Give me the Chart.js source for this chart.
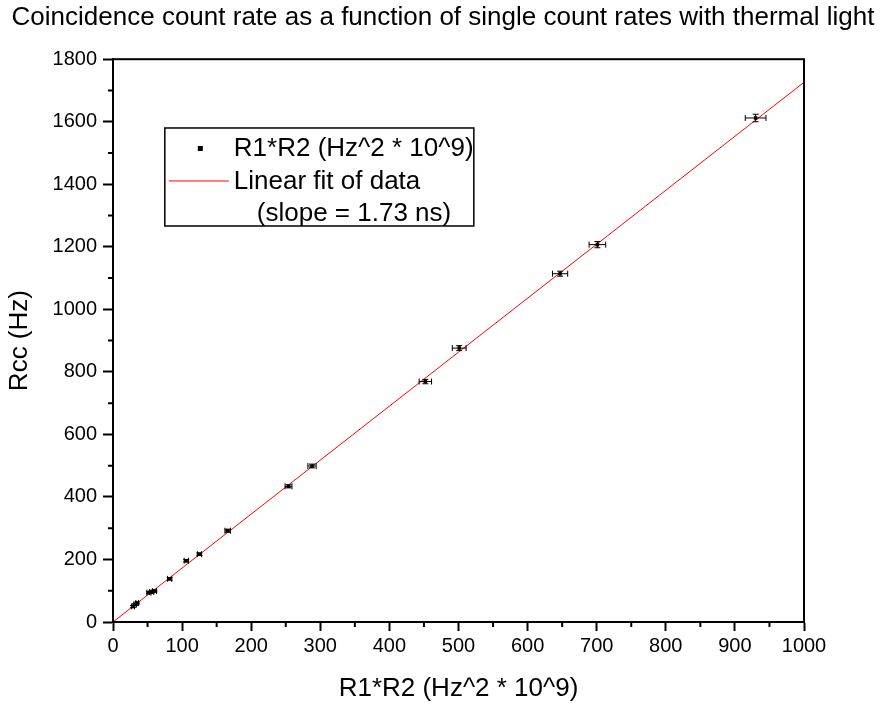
<!DOCTYPE html>
<html>
<head>
<meta charset="utf-8">
<script src="https://cdn.jsdelivr.net/npm/chart.js@4/dist/chart.umd.min.js"></script>
<style>
  html, body { margin: 0; padding: 0; background: #fff; }
  #wrap { width: 886px; height: 704px; }
</style>
</head>
<body>
<div id="wrap"><canvas id="myChart" width="886" height="704"></canvas></div>
<script>
// measured points: R1*R2 (Hz^2 * 10^9) vs Rcc (Hz)
var r1r2 = [29, 32, 35, 52, 56, 60, 82, 106, 125, 166, 254, 288, 452, 501, 647, 701, 930];
var rcc = [50, 56, 61, 94, 96, 99, 138, 196, 217, 292, 434, 499, 769, 876, 1114, 1207, 1612];
var r1r2Err = [2, 2, 2, 3, 3, 3, 3, 3, 3, 4, 5, 6, 9, 10, 11, 12, 15];
var rccErr = [3, 3, 3, 3, 3, 3, 4, 4, 4, 5, 5, 6, 7, 8, 8, 10, 12];

// linear fit end points (slope = 1.73 ns)
var fitX = [0, 1000];
var fitY = [0, 1726];

var FONT = "'Liberation Sans', Arial, sans-serif";

var points = r1r2.map(function (x, i) { return { x: x, y: rcc[i] }; });
var fitLine = fitX.map(function (x, i) { return { x: x, y: fitY[i] }; });

// error bars, minor ticks, frame and legend box
var extras = {
  id: 'extras',
  afterDatasetsDraw: function (chart) {
    var c = chart.ctx, xs = chart.scales.x, ys = chart.scales.y;
    c.save();
    c.strokeStyle = '#000';
    c.lineWidth = 1;
    for (var i = 0; i < r1r2.length; i++) {
      var px = xs.getPixelForValue(r1r2[i]);
      var py = ys.getPixelForValue(rcc[i]);
      var xl = xs.getPixelForValue(r1r2[i] - r1r2Err[i]);
      var xr = xs.getPixelForValue(r1r2[i] + r1r2Err[i]);
      var yt = ys.getPixelForValue(rcc[i] + rccErr[i]);
      var yb = ys.getPixelForValue(rcc[i] - rccErr[i]);
      c.beginPath();
      c.moveTo(xl, py); c.lineTo(xr, py);
      c.moveTo(xl, py - 3); c.lineTo(xl, py + 3);
      c.moveTo(xr, py - 3); c.lineTo(xr, py + 3);
      c.moveTo(px, yt); c.lineTo(px, yb);
      c.moveTo(px - 3, yt); c.lineTo(px + 3, yt);
      c.moveTo(px - 3, yb); c.lineTo(px + 3, yb);
      c.stroke();
    }
    c.restore();
  },
  afterDraw: function (chart) {
    var c = chart.ctx, a = chart.chartArea, xs = chart.scales.x, ys = chart.scales.y;
    c.save();
    c.strokeStyle = '#000';
    c.lineWidth = 2;
    c.strokeRect(a.left, a.top, a.right - a.left, a.bottom - a.top);
    // minor ticks
    c.beginPath();
    for (var v = 50; v < 1000; v += 100) {
      var x = xs.getPixelForValue(v);
      c.moveTo(x, a.bottom); c.lineTo(x, a.bottom + 5);
    }
    for (var w = 100; w < 1800; w += 200) {
      var y = ys.getPixelForValue(w);
      c.moveTo(a.left, y); c.lineTo(a.left - 5, y);
    }
    c.stroke();

    // legend
    var lx = xs.getPixelForValue(75), ly = ys.getPixelForValue(1580);
    var lw = 309, lh = 98;
    c.fillStyle = '#fff';
    c.fillRect(lx, ly, lw, lh);
    c.lineWidth = 1.5;
    c.strokeRect(lx, ly, lw, lh);
    c.fillStyle = '#000';
    c.fillRect(lx + 33, ly + 18, 5, 5);
    c.strokeStyle = '#ff0000';
    c.lineWidth = 1;
    c.beginPath();
    c.moveTo(lx + 4, ly + 53); c.lineTo(lx + 64, ly + 53);
    c.stroke();
    c.font = '26px ' + FONT;
    c.textBaseline = 'middle';
    c.textAlign = 'left';
    c.fillText('R1*R2 (Hz^2 * 10^9)', lx + 69, ly + 21);
    c.fillText('Linear fit of data', lx + 69, ly + 54);
    c.fillText('(slope = 1.73 ns)', lx + 92, ly + 86);
    c.restore();
  }
};

var ctx = document.getElementById('myChart').getContext('2d');
var myChart = new Chart(ctx, {
  type: 'scatter',
  data: {
    datasets: [
      {
        label: 'R1*R2 (Hz^2 * 10^9)',
        data: points,
        pointStyle: 'rect',
        pointRadius: 2.5,
        backgroundColor: '#000',
        borderColor: '#000',
        borderWidth: 0
      },
      {
        label: 'Linear fit of data',
        data: fitLine,
        type: 'line',
        showLine: true,
        borderColor: '#ff0000',
        borderWidth: 1,
        pointRadius: 0,
        fill: false
      }
    ]
  },
  options: {
    responsive: false,
    animation: false,
    layout: { padding: 0 },
    plugins: {
      legend: { display: false },
      tooltip: { enabled: false },
      title: {
        display: true,
        text: 'Coincidence count rate as a function of single count rates with thermal light',
        color: '#000',
        font: { family: FONT, size: 26, weight: 'normal' },
        padding: { top: 2, bottom: 26 }
      }
    },
    scales: {
      x: {
        type: 'linear',
        min: 0,
        max: 1000,
        afterFit: function (s) { s.height = 82; },
        ticks: {
          stepSize: 100, color: '#000', font: { family: FONT, size: 20 }, padding: 3, maxRotation: 0,
          callback: function (v) { return String(v); }
        },
        grid: { drawOnChartArea: false, tickLength: 9, tickWidth: 2, tickColor: '#000' },
        border: { color: '#000', width: 2 },
        title: {
          display: true,
          text: 'R1*R2 (Hz^2 * 10^9)',
          color: '#000',
          font: { family: FONT, size: 26 },
          padding: { top: 8, bottom: 0 }
        }
      },
      y: {
        type: 'linear',
        min: 0,
        max: 1800,
        afterFit: function (s) { s.width = 113; },
        ticks: {
          stepSize: 200, color: '#000', font: { family: FONT, size: 20 }, padding: 6,
          callback: function (v) { return String(v); }
        },
        grid: { drawOnChartArea: false, tickLength: 10, tickWidth: 2, tickColor: '#000' },
        border: { color: '#000', width: 2 },
        title: {
          display: true,
          text: 'Rcc (Hz)',
          color: '#000',
          font: { family: FONT, size: 26 },
          padding: { top: 4, bottom: 10 }
        }
      },
      // empty right margin so the title can centre on the whole page
      yRight: {
        type: 'linear',
        position: 'right',
        afterFit: function (s) { s.width = 82; },
        ticks: { display: false },
        grid: { display: false },
        border: { display: false }
      }
    }
  },
  plugins: [extras]
});
</script>
</body>
</html>
